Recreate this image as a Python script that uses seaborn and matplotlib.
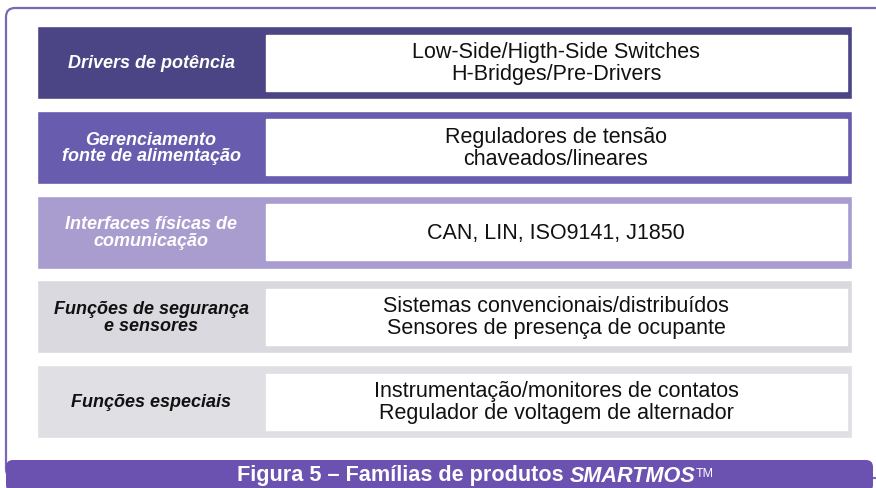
import matplotlib.pyplot as plt
import seaborn as sns
from matplotlib.patches import FancyBboxPatch

# rows of the diagram, top to bottom
categories = [
    "Drivers de potência",
    "Gerenciamento\nfonte de alimentação",
    "Interfaces físicas de\ncomunicação",
    "Funções de segurança\ne sensores",
    "Funções especiais",
]
descriptions = [
    "Low-Side/Higth-Side Switches\nH-Bridges/Pre-Drivers",
    "Reguladores de tensão\nchaveados/lineares",
    "CAN, LIN, ISO9141, J1850",
    "Sistemas convencionais/distribuídos\nSensores de presença de ocupante",
    "Instrumentação/monitores de contatos\nRegulador de voltagem de alternador",
]
band_colors = ["#4b4585", "#675cae", "#a99dd0", "#d9d9df", "#dfdfe4"]
label_colors = ["white", "white", "white", "#111111", "#111111"]
caption = "Figura 5 – Famílias de produtos "
caption_brand = "SMARTMOS"

sns.set_theme(style="white")
plt.rcParams["font.family"] = ["Liberation Sans", "DejaVu Sans"]

fig = plt.figure(figsize=(8.76, 4.89), dpi=100)
ax = fig.add_axes([0, 0, 1, 1])
ax.set_xlim(0, 876)
ax.set_ylim(489, 0)
ax.axis("off")

purple = "#7a68b4"
# open frame: rounded top-left corner, right side runs off the page
ax.add_patch(FancyBboxPatch((6, 9), 1000, 470, boxstyle="round,pad=0,rounding_size=9",
                            fc="none", ec=purple, lw=1.6))

pitch = 84.8
band_h = 73
centers = [27 + band_h / 2 + i * pitch for i in range(len(categories))]

# colored bands
ax.barh(centers, 815, left=37, height=band_h, color=band_colors)
# white description boxes
ax.barh(centers, 581, left=266, height=56, color="white")

for yc, lab, lc, desc in zip(centers, categories, label_colors, descriptions):
    ax.text(151, yc, lab, ha="center", va="center", color=lc, fontsize=13,
            fontweight="bold", fontstyle="italic", linespacing=0.95)
    ax.text(556, yc, desc, ha="center", va="center", color="#111111",
            fontsize=15.5, linespacing=1.05)

# caption bar
ax.add_patch(FancyBboxPatch((6, 461), 867, 32, boxstyle="round,pad=0,rounding_size=7",
                            fc="#6b52b0", ec="none"))
t1 = ax.text(237, 476, caption, ha="left", va="center", color="white",
             fontsize=15.6, fontweight="bold")
t2 = ax.annotate(caption_brand, xy=(1, 0), xycoords=t1, ha="left", va="bottom",
                 color="white", fontsize=15.6, fontweight="bold", fontstyle="italic")
ax.annotate("TM", xy=(1, 1), xycoords=t2, ha="left", va="top", color="white",
            fontsize=9, xytext=(0.5, -2), textcoords="offset points")

fig.savefig("out.png", dpi=100, facecolor="white")
